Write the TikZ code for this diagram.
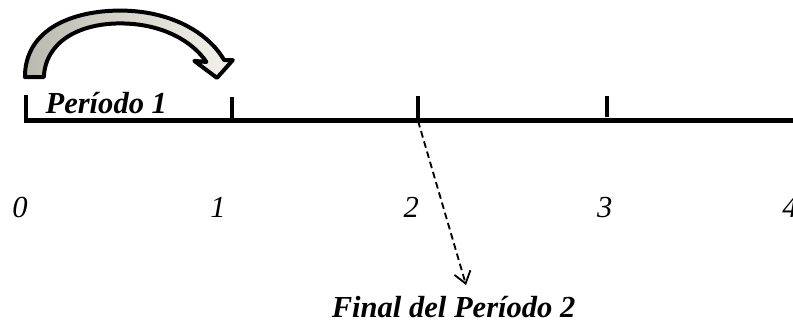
\documentclass[tikz,border=0pt]{standalone}
\usepackage{fontspec}
\setmainfont{Liberation Serif}
\usepackage{tikz}
\usetikzlibrary{calc, arrows.meta, positioning}
\definecolor{arrowdark}{RGB}{185,185,175}
\definecolor{arrowlight}{RGB}{243,243,235}

\begin{document}
\begin{tikzpicture}[
  every node/.style={font=\fontsize{23}{27}\selectfont, inner sep=0pt},
  axisline/.style={line width=3.8pt},
  tickmark/.style={line width=2.4pt},
  ticklabel/.style={font=\fontsize{23}{27}\selectfont\itshape},
  boldlabel/.style={font=\fontsize{23}{27}\selectfont\bfseries\itshape},
  finarrow/.style={dashed, line width=1.4pt, dash pattern=on 5pt off 3pt,
                   -{Straight Barb[length=3mm, width=4.4mm, line width=1.4pt]}}
]
\useasboundingbox (0,0) rectangle (20.98,8.60);
\coordinate (a0) at (0.63,5.40);
\coordinate (a4) at (20.98,5.40);
\draw[axisline] (a0) -- (a4);
\foreach \n/\x/\top in {0/0.69/6.09, 1/6.14/6.04, 2/11.06/6.06}{
  \coordinate (t\n) at (\x,5.40);
  \draw[tickmark] (t\n) -- (\x,\top);
}
\coordinate (t3) at (16.06,5.40);
\draw[tickmark] (16.06,5.50) -- (16.06,6.06);
\foreach \n/\x in {0/0.53, 1/5.77, 2/10.88, 3/16.00, 4/20.90}{
  \node[ticklabel] (n\n) at (\x,3.11) {\n};
}
\node[boldlabel, anchor=base west] (per1) at (1.20,5.61) {Período 1};
\node[boldlabel, anchor=base] (fin) at (12.00,0.21) {Final del Período 2};
\coordinate (finend) at (12.33,1.06);
\draw[finarrow] (t2) -- (finend);
% block arrow over the first period
\shade[left color=arrowdark, right color=arrowlight, draw=black,
       line width=3pt, line join=round]
  (0.66,6.56) .. controls (0.66,7.85) and (1.95,8.32) .. (3.18,8.32)
  .. controls (4.50,8.32) and (5.50,7.75) .. (5.93,7.01)
  -- (6.16,7.01) -- (5.74,6.54) -- (5.14,6.99) -- (5.46,6.96)
  .. controls (5.10,7.50) and (4.30,7.98) .. (3.18,7.98)
  .. controls (2.10,7.98) and (1.20,7.50) .. (1.16,6.56) -- cycle;
\end{tikzpicture}
\end{document}
